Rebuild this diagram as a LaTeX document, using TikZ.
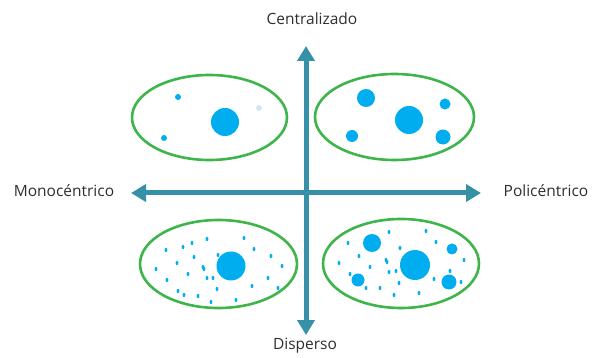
\documentclass[tikz,border=0pt]{standalone}
\usepackage{fontspec}
\setmainfont{Open Sans}
\usepackage{tikz}
\usepackage{xcolor}
\usetikzlibrary{arrows.meta, positioning, calc}

\definecolor{axisteal}{HTML}{3590A8}
\definecolor{ringgreen}{HTML}{3DB54A}
\definecolor{dotblue}{HTML}{00AEEF}
\definecolor{fadeblue}{HTML}{CFE7F2}

\tikzset{
  axis/.style={line width=5pt, axisteal, -{Triangle[length=15pt,width=17pt]}},
  ring/.style={draw=ringgreen, line width=2.6pt},
  axislabel/.style={font=\fontsize{15.5}{17}\selectfont, text=black!82, inner sep=1pt}
}

\begin{document}
\begin{tikzpicture}[x=1pt, y=-1pt]
\useasboundingbox (0,0) rectangle (592,358);

% Axes
\coordinate (mid) at (306,193);
\coordinate (top) at (306,46);
\coordinate (bottom) at (306,335);
\coordinate (left) at (131,193);
\coordinate (right) at (481,193);
\draw[axis] (mid) -- (top);
\draw[axis] (mid) -- (bottom);
\draw[axis] (mid) -- (left);
\draw[axis] (mid) -- (right);

\node[axislabel] (central) at (312,19) {Centralizado};
\node[axislabel] (disperso) at (305,346) {Disperso};
\node[axislabel] (mono) at (64,191) {Monocéntrico};
\node[axislabel] (poli) at (546,191) {Policéntrico};

% Quadrant 1: centralised, one centre
\draw[ring] (209.5,117.5) ellipse (77.5 and 42.5);
\fill[dotblue] (225,122) circle (14);
\foreach \x/\y in {178/97, 164/138} {
    \fill[dotblue] (\x,\y) circle (3);
}
\fill[fadeblue] (259,108) circle (3);

% Quadrant 2: centralised, several centres
\draw[ring] (394.5,117) ellipse (79.5 and 43);
\fill[dotblue] (409,120) circle (14);
\foreach \x/\y/\r in {366/98/9, 352/136/6, 445/104/5.5, 443/137/7.5} {
    \fill[dotblue] (\x,\y) circle (\r);
}

% Quadrant 3: dispersed, one centre
\draw[ring] (218.5,264) ellipse (78.5 and 44);
\fill[dotblue] (231,266) circle (14.5);
\foreach \x/\y in {207/239, 244/238, 192/243, 183/247, 166/250, 254/249,
    194/257, 218/255, 271/256, 177/263, 203/267, 204/269, 156/269, 282/266,
    188/274, 207/278, 213/278, 268/278, 167/280, 217/289, 252/286, 278/288,
    178/291, 184/295, 198/296, 211/302, 236/300} {
    \fill[dotblue] (\x,\y) ellipse (1.4 and 2.2);
}

% Quadrant 4: dispersed, several centres
\draw[ring] (401,263.5) ellipse (78 and 44.5);
\fill[dotblue] (415,265) circle (15);
\foreach \x/\y/\r in {372/243/9, 452/249/5.5, 358/280/6.5, 449/282/7.5} {
    \fill[dotblue] (\x,\y) circle (\r);
}
\foreach \x/\y in {389/232, 426/231, 348/243, 436/242, 400/248, 359/256,
    386/260, 387/262, 464/260, 339/263, 370/267, 389/272, 396/271, 350/274,
    450/271, 434/279, 399/283, 461/282, 366/288, 380/288, 419/293, 394/295} {
    \fill[dotblue] (\x,\y) ellipse (1.4 and 2.2);
}
\end{tikzpicture}
\end{document}
